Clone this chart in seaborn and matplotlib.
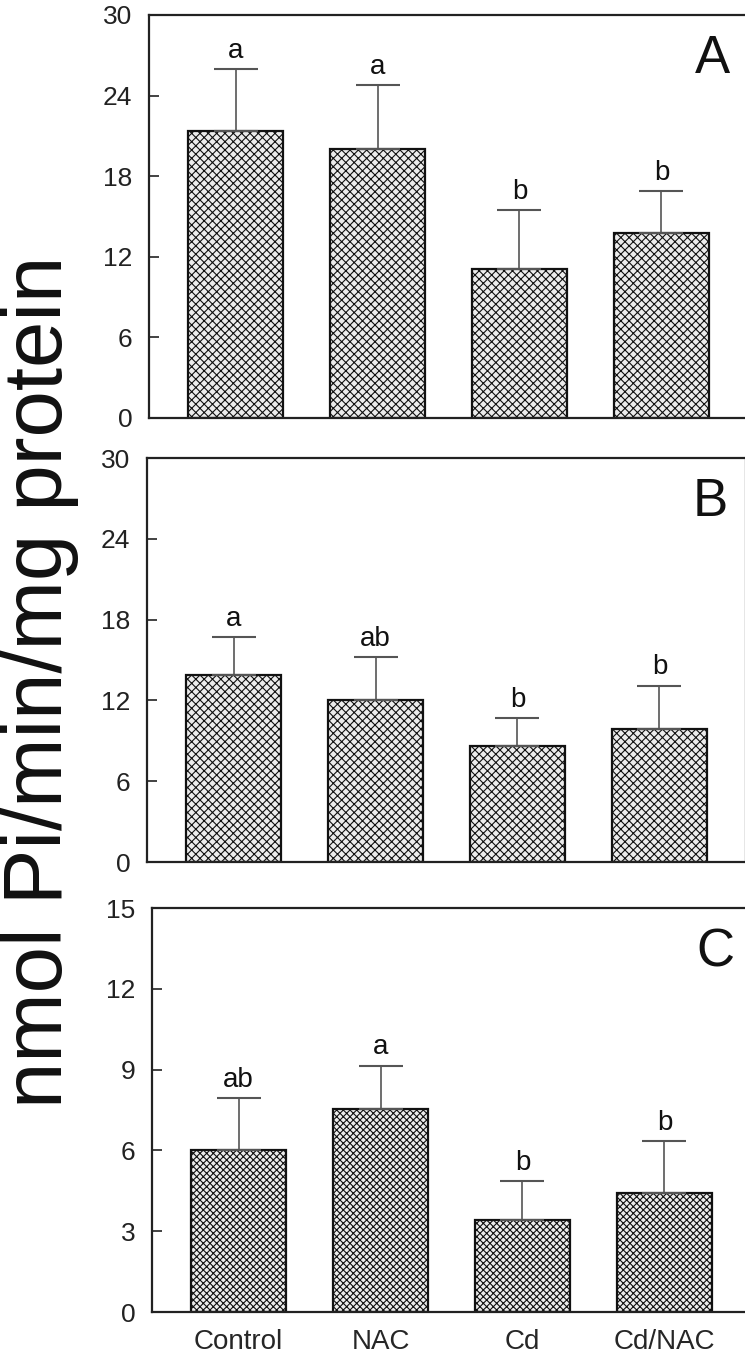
import matplotlib
matplotlib.use("Agg")
import matplotlib.pyplot as plt
import pandas as pd
import seaborn as sns

# data
groups = ["Control", "NAC", "Cd", "Cd/NAC"]

panel_a_mean = [21.4, 20.0, 11.1, 13.8]
panel_a_top = [26.0, 24.8, 15.5, 16.9]
panel_a_letters = ["a", "a", "b", "b"]

panel_b_mean = [13.9, 12.0, 8.6, 9.9]
panel_b_top = [16.7, 15.2, 10.7, 13.1]
panel_b_letters = ["a", "ab", "b", "b"]

panel_c_mean = [6.0, 7.55, 3.4, 4.4]
panel_c_top = [7.95, 9.15, 4.85, 6.35]
panel_c_letters = ["ab", "a", "b", "b"]

ticks_ab = [0, 6, 12, 18, 24, 30]
ticks_c = [0, 3, 6, 9, 12, 15]

sns.set_theme(style="white")
plt.rcParams["font.family"] = ["Liberation Sans", "DejaVu Sans"]
plt.rcParams["hatch.linewidth"] = 0.8
plt.rcParams["hatch.color"] = "#2a2a2a"

W, H = 745, 1362
fig = plt.figure(figsize=(W / 100, H / 100), dpi=100)


def add_panel(left, top, bottom, means, tops, letters, ticks, label, hatch,
              show_x=False):
    ax = fig.add_axes([left / W, 1 - bottom / H, 599 / W, (bottom - top) / H])
    df = pd.DataFrame({"group": groups, "value": means})
    sns.barplot(data=df, x="group", y="value", ax=ax, color="#ececec",
                edgecolor="#111111", linewidth=1.6, width=0.67, hatch=hatch,
                errorbar=None)
    err_up = [t - m for t, m in zip(tops, means)]
    ax.errorbar(range(len(groups)), means, yerr=[[0] * len(means), err_up],
                fmt="none", ecolor="#555555", elinewidth=1.2, capsize=16,
                capthick=1.5, zorder=1)
    for i, (t, s) in enumerate(zip(tops, letters)):
        ax.annotate(s, (i, t), xytext=(0, 8), textcoords="offset points",
                    ha="center", va="baseline", fontsize=20, color="#111111")
    ax.set_xlim(-0.61, 3.61)
    ax.set_ylim(ticks[0], ticks[-1])
    ax.set_yticks(ticks)
    ax.tick_params(axis="y", direction="in", length=7, width=1.2,
                   labelsize=19, pad=12, colors="#222222", left=True)
    ax.tick_params(axis="x", length=0, pad=12, labelsize=20)
    ax.set_xlabel("")
    ax.set_ylabel("")
    if not show_x:
        ax.set_xticklabels([])
    for sp in ax.spines.values():
        sp.set_color("#222222")
        sp.set_linewidth(1.6)
    ax.text(0.94, 0.89, label, transform=ax.transAxes, ha="center",
            va="center", fontsize=38, color="#111111")
    return ax


add_panel(149, 15, 418, panel_a_mean, panel_a_top, panel_a_letters,
          ticks_ab, "A", "xxxx")
add_panel(147, 458, 862, panel_b_mean, panel_b_top, panel_b_letters,
          ticks_ab, "B", "xxxx")
add_panel(152, 908, 1312, panel_c_mean, panel_c_top, panel_c_letters,
          ticks_c, "C", "xxxxx", show_x=True)

fig.text(40 / W, 1 - 682 / H, "nmol Pi/min/mg protein", rotation=90,
         ha="center", va="center", fontsize=60, color="#111111")

fig.savefig("out.png", dpi=100)
